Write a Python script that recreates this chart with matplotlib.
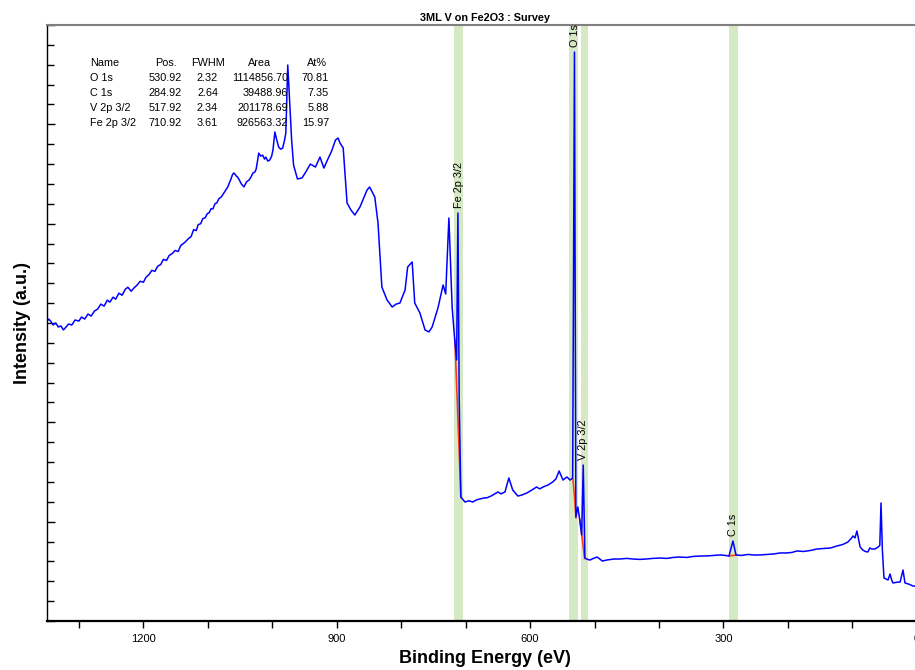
import matplotlib
matplotlib.use("Agg")
import matplotlib.pyplot as plt
from matplotlib.ticker import MultipleLocator, NullFormatter

FONT = ["Liberation Sans", "DejaVu Sans"]

# survey spectrum (binding energy eV, counts)
be = [1351, 1347, 1344, 1340, 1336, 1332, 1328, 1324,
      1320, 1316, 1311, 1306, 1300, 1296, 1291, 1286,
      1281, 1276, 1271, 1266, 1261, 1256, 1252, 1247,
      1243, 1238, 1233, 1228, 1224, 1219, 1215, 1210,
      1205, 1200, 1196, 1191, 1187, 1182, 1178, 1173,
      1169, 1164, 1160, 1155, 1151, 1146, 1142, 1136,
      1130, 1126, 1122, 1118, 1115, 1111, 1108, 1104,
      1101, 1098, 1095, 1092, 1089, 1086, 1083, 1079,
      1076, 1072, 1069, 1066, 1064, 1062, 1060, 1058,
      1056, 1054, 1052, 1048, 1044, 1040, 1036, 1033,
      1030, 1027, 1025, 1023, 1021, 1018, 1015, 1012,
      1010, 1007, 1004, 1001, 999, 997, 996, 993,
      990, 987, 984, 981, 979, 976, 970, 967,
      961, 954,
      949, 941, 933, 926, 920, 913, 908, 902,
      898, 895, 890, 884, 878, 872, 864, 853,
      849, 841, 836, 830, 822, 814, 808, 802,
      794, 790, 783, 779, 771, 763, 757, 752,
      743, 735, 731, 726, 721, 717, 714, 712,
      710, 707.5, 701, 695, 689, 683, 678, 672,
      667, 660, 655, 650, 645, 639, 633, 627,
      619, 612, 605, 597, 590, 585, 580, 572,
      565, 560, 555, 549, 543, 538, 534, 531.2,
      529, 526, 523, 520, 517.6, 515, 511, 507,
      502, 496, 492, 488, 480, 470, 461, 450,
      440, 430, 420, 410, 399, 388, 378, 368,
      357, 347, 337, 326, 315, 305, 297, 291.5,
      285.3, 280.6, 272, 262, 252, 243, 233, 222,
      212, 202, 194, 186, 176, 165, 155, 145,
      134, 124, 115, 107, 102, 99, 96, 93,
      88, 84, 80, 76, 73, 70, 65, 60,
      57.5, 55.6, 53.5, 51, 47, 44.7, 41.6, 39,
      37, 31, 26, 21.5, 18.4, 12, 6, 0]
counts = [30030, 30400, 30200, 29800, 30000, 29600, 29700, 29300,
          29600, 29900, 29800, 30300, 30200, 30600, 30400, 30900,
          30700, 31200, 31400, 31900, 31700, 32300, 32100, 32600,
          32400, 33000, 32800, 33400, 33600, 33200, 33500, 33800,
          34200, 34100, 34600, 34900, 35300, 35200, 35700, 35900,
          36400, 36300, 36800, 37000, 37300, 37200, 37800, 38100,
          38500, 38700, 39400, 39300, 39900, 40000, 40500, 40600,
          41000, 41100, 41500, 41500, 42000, 42100, 42500, 42700,
          43000, 43400, 43700, 44200, 44500, 44900, 45100, 45000,
          44800, 44700, 44500, 44000, 43700, 44200, 44400, 44700,
          45100, 45200, 45500, 46300, 47100, 46800, 46900, 46500,
          46700, 46300, 46400, 46800, 47400, 48600, 49230, 48400,
          47700, 47500, 47600, 48400, 49130, 55970, 48420, 45900,
          44500, 44600,
          45100, 46000, 45700, 46710, 45600, 46610, 47300, 48420,
          48620, 48120, 47620, 42080, 41380, 40870, 41680, 43390,
          43690, 42680, 40070, 33620, 32320, 31610, 31900, 32010,
          33320, 35640, 36140, 32010, 31010, 29300, 29100, 29600,
          31510, 33830, 32920, 40570, 31610, 28290, 26280, 41070,
          22250, 12480, 11980, 12100, 11980, 12200, 12280, 12380,
          12400, 12600, 12800, 12990, 12800, 12990, 14400, 13190,
          12580, 12700, 12890, 13200, 13490, 13300, 13490, 13700,
          13990, 14300, 15100, 14190, 14500, 14190, 14400, 57280,
          10470, 11480, 10170, 8660, 15700, 6340, 6200, 6140,
          6300, 6440, 6250, 6040, 6150, 6240, 6240, 6300,
          6240, 6200, 6240, 6300, 6340, 6300, 6400, 6440,
          6400, 6500, 6540, 6550, 6600, 6650, 6600, 6540,
          8050, 6650, 6600, 6700, 6640, 6650, 6700, 6750,
          6850, 6850, 6900, 7050, 7000, 7100, 7250, 7300,
          7350, 7550, 7700, 7950, 8300, 8560, 8360, 9060,
          7450, 7150, 7000, 6950, 7350, 7250, 7250, 7450,
          7600, 11880, 7150, 4330, 4200, 4130, 4730, 4100,
          3830, 3900, 3930, 5130, 3830, 3700, 3520, 3500]

# fitted backgrounds (red)
bg_fe_be = [716.7, 712, 707.4]
bg_fe = [28300, 20400, 12480]
bg_o_be = [533.5, 531, 528.9]
bg_o = [14300, 12400, 10400]
bg_v_be = [522.7, 519, 515.5]
bg_v = [10200, 8200, 6300]
bg_c_be = [291.5, 285, 280.6]
bg_c = [6550, 6600, 6650]

# peak regions (green bands)
band_lo = [704, 525.5, 510.5, 277.5]
band_hi = [718, 539.5, 521.5, 291.5]

# peak labels
peak_names = ["Fe 2p 3/2", "O 1s", "V 2p 3/2", "C 1s"]
peak_be = [710.92, 530.92, 517.92, 284.92]
peak_top = [41070, 57280, 15700, 8050]

# quantification table
tab_header = ["Name", "Pos.", "FWHM", "Area", "At%"]
tab_name = ["O 1s", "C 1s", "V 2p 3/2", "Fe 2p 3/2"]
tab_pos = ["530.92", "284.92", "517.92", "710.92"]
tab_fwhm = ["2.32", "2.64", "2.34", "3.61"]
tab_area = ["1114856.70", "39488.96", "201178.69", "926563.32"]
tab_at = ["70.81", "7.35", "5.88", "15.97"]

W, H = 915, 670
fig = plt.figure(figsize=(W / 100, H / 100), dpi=100)
ax = fig.add_axes([46.7 / W, 49 / H, 876.6 / W, 596 / H])

for lo, hi in zip(band_lo, band_hi):
    ax.axvspan(lo, hi, color="#d5e9c4", lw=0, zorder=0)

ax.plot(be, counts, color="#0000ff", lw=1.1, zorder=2)
for bx, by in [(bg_fe_be, bg_fe), (bg_o_be, bg_o), (bg_v_be, bg_v), (bg_c_be, bg_c)]:
    ax.plot(bx, by, color="#ff3a1a", lw=1.2, zorder=1)

for name, x, y in zip(peak_names, peak_be, peak_top):
    ax.annotate(name, (x, y), xytext=(0, 3.5), textcoords="offset points",
                rotation=90, ha="center", va="bottom", fontsize=7.8, family=FONT)

ax.set_xlim(1350, -10)
ax.set_ylim(0, 60000)
ax.xaxis.set_major_locator(MultipleLocator(300))
ax.xaxis.set_minor_locator(MultipleLocator(100))
ax.yaxis.set_major_locator(MultipleLocator(10000))
ax.yaxis.set_minor_locator(MultipleLocator(2000))
ax.yaxis.set_major_formatter(NullFormatter())
ax.tick_params(axis="x", which="both", direction="out", length=5, width=1,
               labelsize=8, pad=4)
ax.tick_params(axis="y", which="major", direction="in", length=6, width=1)
ax.tick_params(axis="y", which="minor", direction="in", length=5, width=1)
for lab in ax.get_xticklabels():
    lab.set_family(FONT)

ax.spines["right"].set_visible(False)
ax.spines["top"].set_color("#808080")
ax.spines["top"].set_linewidth(1.5)
ax.spines["bottom"].set_linewidth(1.6)
ax.spines["left"].set_linewidth(1.0)

ax.set_xlabel("Binding Energy (eV)", fontsize=13, fontweight="bold",
              family=FONT, labelpad=5)
fig.text(23 / W, 1 - 323 / H, "Intensity (a.u.)", rotation=90, fontsize=13,
         fontweight="bold", family=FONT, ha="center", va="center")
fig.text(485 / W, 1 - 18 / H, "3ML V on Fe2O3 : Survey", fontsize=7.8,
         fontweight="bold", family=FONT, ha="center", va="center")

# table in the top-left corner
rows_y = [63, 78, 93, 108, 123]


def put(px, py, s, ha):
    fig.text(px / W, 1 - py / H, s, fontsize=7.8, family=FONT, ha=ha, va="center")


put(90, rows_y[0], tab_header[0], "left")
put(166, rows_y[0], tab_header[1], "center")
put(207.5, rows_y[0], tab_header[2], "center")
put(260, rows_y[0], tab_header[3], "center")
put(317, rows_y[0], tab_header[4], "center")
for i in range(4):
    yy = rows_y[i + 1]
    put(90, yy, tab_name[i], "left")
    put(182, yy, tab_pos[i], "right")
    put(207.5, yy, tab_fwhm[i], "center")
    put(288, yy, tab_area[i], "right")
    put(329, yy, tab_at[i], "right")

fig.savefig("out.png", dpi=100)
